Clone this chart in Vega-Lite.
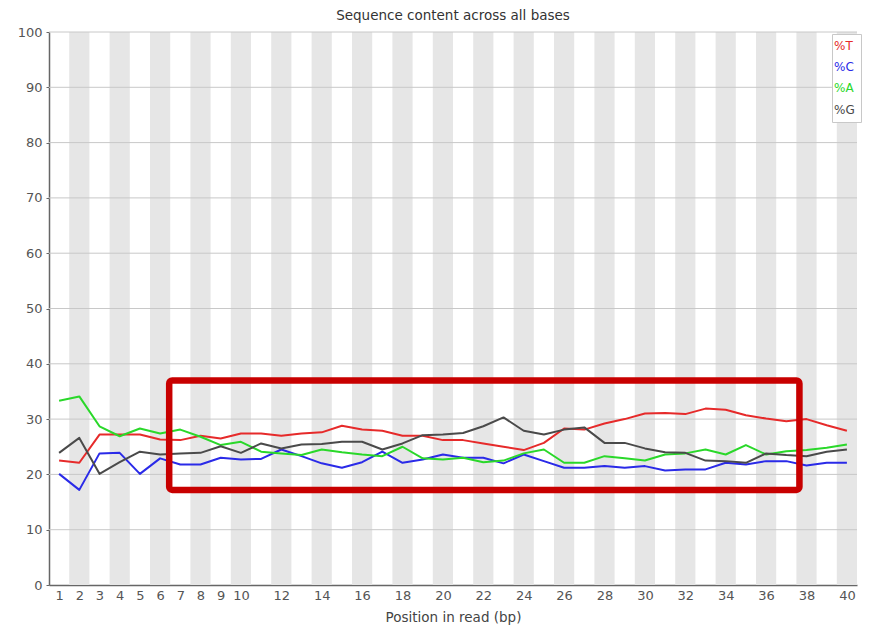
{
  "$schema": "https://vega.github.io/schema/vega-lite/v6.json",
  "width": 808,
  "height": 553,
  "autosize": "none",
  "padding": {"left": 49, "top": 32, "right": 12, "bottom": 40},
  "background": "white",
  "config": {
    "font": "DejaVu Sans",
    "view": {"stroke": null},
    "axis": {"labelOverlap": false, "labelSeparation": -20},
    "axisX": {"labelOverlap": false, "labelSeparation": -20},
    "axisQuantitative": {"labelOverlap": false}
  },
  "title": {
    "text": "Sequence content across all bases",
    "fontSize": 13.5,
    "fontWeight": "normal",
    "color": "#333333",
    "anchor": "middle",
    "offset": 4
  },
  "datasets": {
    "bases": [
      {"pos": 1, "T": 22.5, "C": 20.1, "A": 33.3, "G": 23.9},
      {"pos": 2, "T": 22.1, "C": 17.2, "A": 34.1, "G": 26.6},
      {"pos": 3, "T": 27.2, "C": 23.8, "A": 28.7, "G": 20.1},
      {"pos": 4, "T": 27.2, "C": 23.9, "A": 26.9, "G": 22.2},
      {"pos": 5, "T": 27.2, "C": 20.1, "A": 28.3, "G": 24.1},
      {"pos": 6, "T": 26.3, "C": 22.9, "A": 27.4, "G": 23.6},
      {"pos": 7, "T": 26.2, "C": 21.8, "A": 28.1, "G": 23.8},
      {"pos": 8, "T": 27.0, "C": 21.8, "A": 26.8, "G": 23.9},
      {"pos": 9, "T": 26.5, "C": 23.0, "A": 25.3, "G": 25.1},
      {"pos": 10, "T": 27.4, "C": 22.7, "A": 25.9, "G": 23.9},
      {"pos": 11, "T": 27.4, "C": 22.8, "A": 24.1, "G": 25.6},
      {"pos": 12, "T": 27.0, "C": 24.5, "A": 23.8, "G": 24.7},
      {"pos": 13, "T": 27.4, "C": 23.3, "A": 23.5, "G": 25.4},
      {"pos": 14, "T": 27.6, "C": 22.0, "A": 24.5, "G": 25.5},
      {"pos": 15, "T": 28.8, "C": 21.2, "A": 24.0, "G": 25.9},
      {"pos": 16, "T": 28.1, "C": 22.2, "A": 23.6, "G": 25.9},
      {"pos": 17, "T": 27.9, "C": 24.1, "A": 23.3, "G": 24.5},
      {"pos": 18, "T": 27.0, "C": 22.1, "A": 25.0, "G": 25.6},
      {"pos": 19, "T": 27.0, "C": 22.7, "A": 22.9, "G": 27.1},
      {"pos": 20, "T": 26.2, "C": 23.6, "A": 22.7, "G": 27.2},
      {"pos": 21, "T": 26.2, "C": 23.0, "A": 23.0, "G": 27.5},
      {"pos": 22, "T": 25.6, "C": 23.0, "A": 22.2, "G": 28.7},
      {"pos": 23, "T": 25.0, "C": 22.0, "A": 22.5, "G": 30.3},
      {"pos": 24, "T": 24.4, "C": 23.6, "A": 23.8, "G": 27.9},
      {"pos": 25, "T": 25.7, "C": 22.4, "A": 24.5, "G": 27.2},
      {"pos": 26, "T": 28.3, "C": 21.2, "A": 22.1, "G": 28.1},
      {"pos": 27, "T": 28.1, "C": 21.2, "A": 22.1, "G": 28.5},
      {"pos": 28, "T": 29.2, "C": 21.5, "A": 23.3, "G": 25.7},
      {"pos": 29, "T": 30.0, "C": 21.2, "A": 22.9, "G": 25.7},
      {"pos": 30, "T": 31.0, "C": 21.5, "A": 22.5, "G": 24.7},
      {"pos": 31, "T": 31.1, "C": 20.7, "A": 23.6, "G": 24.0},
      {"pos": 32, "T": 30.9, "C": 20.9, "A": 23.8, "G": 23.9},
      {"pos": 33, "T": 31.9, "C": 20.9, "A": 24.5, "G": 22.5},
      {"pos": 34, "T": 31.7, "C": 22.1, "A": 23.6, "G": 22.4},
      {"pos": 35, "T": 30.7, "C": 21.8, "A": 25.3, "G": 22.1},
      {"pos": 36, "T": 30.1, "C": 22.4, "A": 23.6, "G": 23.8},
      {"pos": 37, "T": 29.6, "C": 22.4, "A": 24.2, "G": 23.5},
      {"pos": 38, "T": 30.0, "C": 21.6, "A": 24.4, "G": 23.3},
      {"pos": 39, "T": 28.9, "C": 22.1, "A": 24.8, "G": 24.1},
      {"pos": 40, "T": 27.9, "C": 22.1, "A": 25.4, "G": 24.5}
    ],
    "stripes": [
      {"from": 1.5, "to": 2.5}, {"from": 3.5, "to": 4.5}, {"from": 5.5, "to": 6.5},
      {"from": 7.5, "to": 8.5}, {"from": 9.5, "to": 10.5}, {"from": 11.5, "to": 12.5},
      {"from": 13.5, "to": 14.5}, {"from": 15.5, "to": 16.5}, {"from": 17.5, "to": 18.5},
      {"from": 19.5, "to": 20.5}, {"from": 21.5, "to": 22.5}, {"from": 23.5, "to": 24.5},
      {"from": 25.5, "to": 26.5}, {"from": 27.5, "to": 28.5}, {"from": 29.5, "to": 30.5},
      {"from": 31.5, "to": 32.5}, {"from": 33.5, "to": 34.5}, {"from": 35.5, "to": 36.5},
      {"from": 37.5, "to": 38.5}, {"from": 39.5, "to": 40.5}
    ],
    "gridlines": [
      {"level": 10}, {"level": 20}, {"level": 30}, {"level": 40}, {"level": 50},
      {"level": 60}, {"level": 70}, {"level": 80}, {"level": 90}, {"level": 100}
    ],
    "highlight": [
      {"x0": 6.45, "x1": 37.65, "y0": 17.2, "y1": 37.0}
    ]
  },
  "layer": [
    {
      "data": {"name": "stripes"},
      "mark": {"type": "rect", "color": "#e6e6e6"},
      "encoding": {
        "x": {
          "field": "from",
          "type": "quantitative",
          "scale": {"domain": [0.5, 40.5], "nice": false, "zero": false},
          "axis": {
            "title": "Position in read (bp)",
            "titleFontSize": 13.5,
            "titleFontWeight": "normal",
            "titleColor": "#444444",
            "titlePadding": 8,
            "values": [1, 2, 3, 4, 5, 6, 7, 8, 9, 10, 12, 14, 16, 18, 20, 22, 24, 26, 28, 30, 32, 34, 36, 38, 40],
            "labelFontSize": 13,
            "labelColor": "#555555",
            "labelPadding": 4,
            "labelFlush": false,
            "labelOverlap": false,
            "labelSeparation": -20,
            "labelBound": false,
            "ticks": false,
            "grid": false,
            "domainColor": "#666666",
            "domainWidth": 1.5
          }
        },
        "x2": {"field": "to"},
        "y": {"datum": 0, "type": "quantitative"},
        "y2": {"datum": 100}
      }
    },
    {
      "data": {"name": "gridlines"},
      "mark": {"type": "rule", "color": "#c8c8c8", "strokeWidth": 1},
      "encoding": {
        "y": {
          "field": "level",
          "type": "quantitative",
          "scale": {"domain": [0, 100], "nice": false},
          "axis": {
            "title": null,
            "values": [0, 10, 20, 30, 40, 50, 60, 70, 80, 90, 100],
            "labelFontSize": 13,
            "labelColor": "#555555",
            "labelPadding": 4,
            "labelOverlap": false,
            "tickSize": 3,
            "tickColor": "#666666",
            "grid": false,
            "domainColor": "#666666",
            "domainWidth": 1.5
          }
        }
      }
    },
    {
      "data": {"name": "bases"},
      "transform": [
        {"fold": ["T", "C", "A", "G"], "as": ["base", "pct"]}
      ],
      "mark": {"type": "line", "strokeWidth": 2, "strokeJoin": "round"},
      "encoding": {
        "x": {
          "field": "pos",
          "type": "quantitative",
          "axis": {
            "title": "Position in read (bp)",
            "values": [1, 2, 3, 4, 5, 6, 7, 8, 9, 10, 12, 14, 16, 18, 20, 22, 24, 26, 28, 30, 32, 34, 36, 38, 40],
            "labelOverlap": false,
            "labelSeparation": -20
          }
        },
        "y": {"field": "pct", "type": "quantitative"},
        "color": {
          "field": "base",
          "type": "nominal",
          "scale": {
            "domain": ["T", "C", "A", "G"],
            "range": ["#e62a2a", "#2a2ae8", "#2ad82a", "#4a4a4a"]
          },
          "legend": {
            "title": null,
            "orient": "none",
            "legendX": 783,
            "legendY": 2,
            "labelExpr": "'%' + datum.label",
            "labelFontSize": 12,
            "labelOffset": -16,
            "symbolSize": 0,
            "symbolStrokeWidth": 0,
            "symbolOpacity": 0,
            "rowPadding": 9.2,
            "padding": 6,
            "fillColor": "white",
            "strokeColor": "#c8c8c8",
            "encode": {
              "labels": {"update": {"fill": {"scale": "color", "field": "value"}}}
            }
          }
        }
      }
    },
    {
      "data": {"name": "highlight"},
      "mark": {"type": "rect", "fill": null, "fillOpacity": 0, "stroke": "#c80000", "strokeWidth": 6.5, "cornerRadius": 3},
      "encoding": {
        "x": {
          "field": "x0",
          "type": "quantitative",
          "axis": {
            "title": "Position in read (bp)",
            "values": [1, 2, 3, 4, 5, 6, 7, 8, 9, 10, 12, 14, 16, 18, 20, 22, 24, 26, 28, 30, 32, 34, 36, 38, 40],
            "labelOverlap": false,
            "labelSeparation": -20
          }
        },
        "x2": {"field": "x1"},
        "y": {"field": "y0", "type": "quantitative"},
        "y2": {"field": "y1"}
      }
    }
  ]
}
